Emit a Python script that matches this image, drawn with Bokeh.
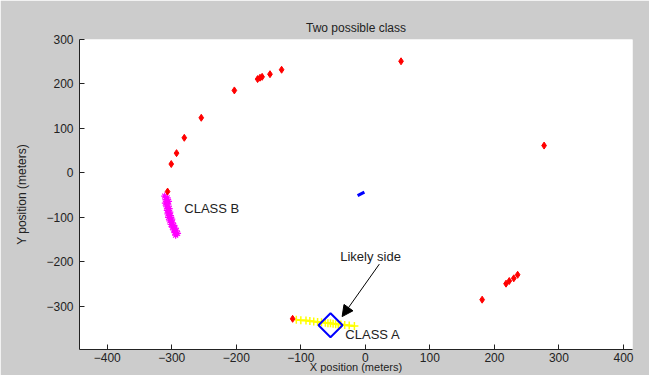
from bokeh.plotting import figure
from bokeh.models import Range1d, Label, Arrow, NormalHead, FixedTicker
from bokeh.embed import file_html
from bokeh.resources import INLINE
import math

# Red detections
red_x = [-292.6, -280.6, -254.3, -203, -167, -163.3, -160, -147.8, -129.8, 55.3, 277, -300.8,
         -306.5, 181, 218, 223, 230, 236, -112.7]
red_y = [44.5, 79, 124, 185.5, 211, 214, 216, 222, 232, 251, 61.5, 20,
         -42, -285, -249, -243, -237, -229, -328]

# Class B cluster (magenta)
mag_x = [-311, -307, -309, -305, -310, -306, -308, -304, -307, -303, -306, -302, -305,
         -300, -303, -299, -301, -297, -299, -295, -297, -293, -295, -291, -294]
mag_y = [-52, -56, -60, -64, -68, -72, -76, -80, -84, -88, -92, -96, -100,
         -104, -108, -112, -116, -118, -122, -124, -128, -130, -134, -136, -140]

# Class A track (yellow)
yel_x = [-107, -100, -92, -86, -80, -74, -68, -62, -58, -54, -50, -46, -42, -38, -32, -25, -17]
yel_y = [-330, -331, -332, -333, -334, -335, -336, -337, -338, -338, -339, -340, -340, -341, -342, -343, -344]

# Small blue track
blue_x = [-12, -1.5]
blue_y = [-51, -43]

# Likely position (diamond)
dia_x = [-54]
dia_y = [-342.5]

x_ticks = [-400, -300, -200, -100, 0, 100, 200, 300, 400]
y_ticks = [-300, -200, -100, 0, 100, 200, 300]

FONT = "Liberation Sans"

p = figure(width=649, height=375, output_backend="svg", toolbar_location=None,
           x_range=Range1d(-443, 414), y_range=Range1d(-397, 300),
           title="Two possible class")
p.min_border_left = 79
p.min_border_right = 17
p.min_border_top = 39
p.min_border_bottom = 20
p.border_fill_color = "#cccccc"
p.background_fill_color = "white"
p.outline_line_color = None
p.grid.visible = False

p.title.align = "center"
p.title.text_font = FONT
p.title.text_font_size = "12px"
p.title.text_font_style = "normal"
p.title.text_color = "#222222"
p.title.offset = 0

for ax in (p.xaxis[0], p.yaxis[0]):
    ax.major_tick_in = 5
    ax.major_tick_out = 0
    ax.minor_tick_in = 0
    ax.minor_tick_out = 0
    ax.axis_line_color = "#222222"
    ax.major_tick_line_color = "#222222"
    ax.major_label_text_font = FONT
    ax.major_label_text_font_size = "12px"
    ax.major_label_text_color = "#222222"
    ax.axis_label_text_font = FONT
    ax.axis_label_text_font_size = "12px"
    ax.axis_label_text_font_style = "normal"
    ax.axis_label_text_color = "#222222"

p.xaxis.ticker = FixedTicker(ticks=x_ticks)
p.yaxis.ticker = FixedTicker(ticks=y_ticks)
p.xaxis.axis_label = "X position (meters)"
p.yaxis.axis_label = "Y position (meters)"
p.xaxis.major_label_standoff = 3
p.xaxis.axis_label_standoff = -4
p.xaxis.axis_label_text_font_size = "11px"
p.yaxis.major_label_standoff = 6
p.yaxis.axis_label_standoff = 14

# yellow track
p.line(yel_x, yel_y, line_color="yellow", line_width=2)
p.scatter(yel_x, yel_y, marker="cross", size=8, line_color="yellow", line_width=1.5)

# magenta cluster
p.scatter(mag_x, mag_y, marker="asterisk", size=7, line_color="magenta", line_width=1.2)

# red detections
p.scatter(red_x, red_y, marker="diamond", size=7, fill_color="red", line_color="red")

# blue small track
p.line(blue_x, blue_y, line_color="blue", line_width=3)

# diamond
p.scatter(dia_x, dia_y, marker="square", size=17, angle=math.pi / 4,
          fill_color=None, line_color="blue", line_width=2)

# labels
for txt, lx, ly in [("CLASS B", -280.6, -79), ("CLASS A", -31, -363), ("Likely side", -39, -189)]:
    p.add_layout(Label(x=lx, y=ly, text=txt, text_font=FONT, text_font_size="13px",
                       text_baseline="middle", text_align="left", text_color="#222222"))

p.add_layout(Arrow(end=NormalHead(size=11, fill_color="black", line_color="black"),
                   x_start=21.7, y_start=-205, x_end=-36, y_end=-323,
                   line_color="black", line_width=1))

open("out.html", "w").write(file_html(p, INLINE))
